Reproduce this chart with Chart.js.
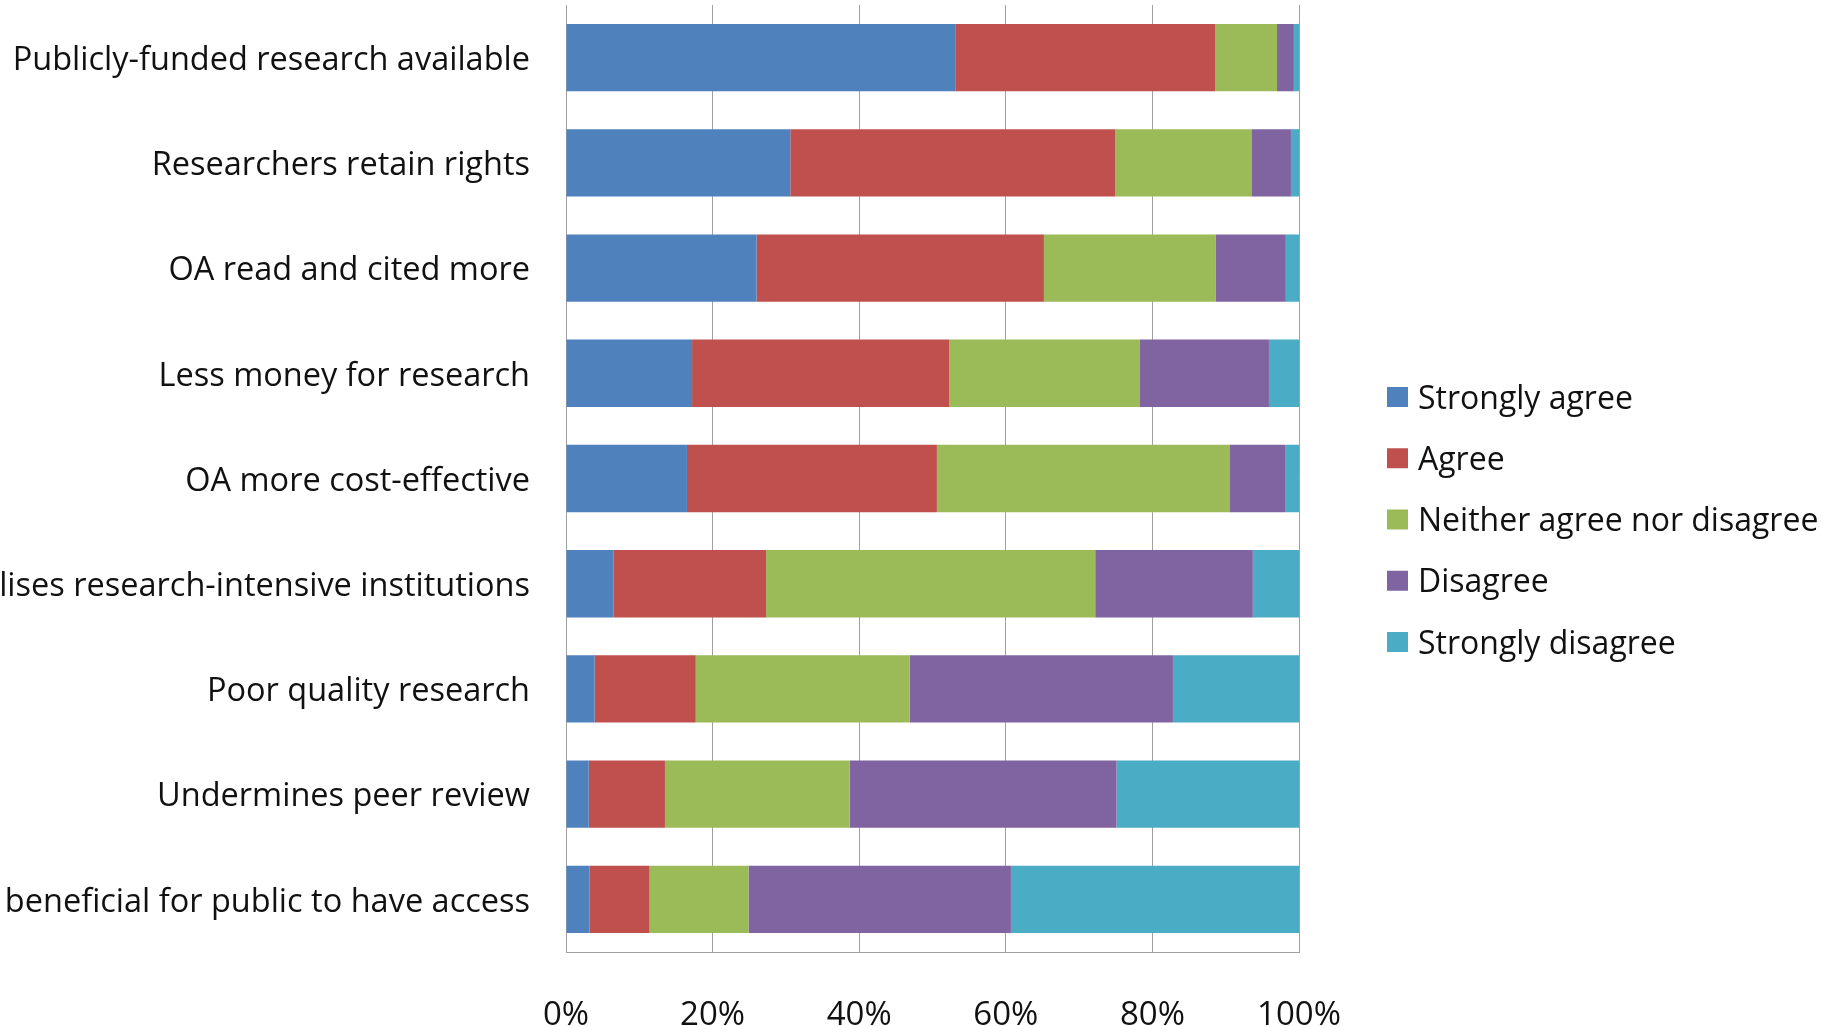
<!DOCTYPE html>
<html><head><meta charset="utf-8">
<script src="https://cdn.jsdelivr.net/npm/chart.js@4.4.0/dist/chart.umd.min.js"></script>
<style>html,body{margin:0;padding:0;background:#fff;overflow:hidden}</style>
</head><body>
<canvas id="c" width="1828" height="1026"></canvas>
<script>
const categories = [
  'Publicly-funded research available',
  'Researchers retain rights',
  'OA read and cited more',
  'Less money for research',
  'OA more cost-effective',
  'lises research-intensive institutions',
  'Poor quality research',
  'Undermines peer review',
  'beneficial for public to have access'
];
const seriesNames = ['Strongly agree', 'Agree', 'Neither agree nor disagree', 'Disagree', 'Strongly disagree'];
const stronglyAgree    = [53.1, 30.6, 26.0, 17.2, 16.5, 6.5, 3.9, 3.1, 3.2];
const agree            = [35.5, 44.3, 39.2, 35.1, 34.1, 20.8, 13.8, 10.4, 8.2];
const neither          = [8.4, 18.6, 23.4, 26.0, 39.9, 44.9, 29.2, 25.2, 13.5];
const disagree         = [2.3, 5.4, 9.6, 17.6, 7.6, 21.5, 35.9, 36.4, 35.8];
const stronglyDisagree = [0.7, 1.1, 1.8, 4.1, 1.9, 6.3, 17.2, 24.9, 39.3];
const xTickValues = [0, 20, 40, 60, 80, 100];
const xTickLabels = ['0%', '20%', '40%', '60%', '80%', '100%'];

const seriesValues = [stronglyAgree, agree, neither, disagree, stronglyDisagree];
const seriesColors = ['#4F81BD', '#C0504D', '#9BBB59', '#8064A2', '#4BACC6'];
const FONT = "'Open Sans', sans-serif";

const sideLegend = {
  id: 'sideLegend',
  afterDraw(chart) {
    const ctx = chart.ctx;
    ctx.save();
    ctx.font = '32px ' + FONT;
    ctx.textBaseline = 'alphabetic';
    chart.data.datasets.forEach((ds, i) => {
      const yc = 397 + i * 61.25;
      ctx.fillStyle = ds.backgroundColor;
      ctx.fillRect(1387, yc - 10, 21, 20);
      ctx.fillStyle = '#111';
      ctx.fillText(ds.label, 1418, yc + 11.5);
    });
    ctx.restore();
  }
};

new Chart(document.getElementById('c'), {
  type: 'bar',
  data: {
    labels: categories,
    datasets: seriesNames.map((n, i) => ({
      label: n,
      data: seriesValues[i],
      backgroundColor: seriesColors[i],
      borderWidth: 0,
      barPercentage: 0.64,
      categoryPercentage: 1
    }))
  },
  options: {
    indexAxis: 'y',
    responsive: false,
    devicePixelRatio: 1,
    animation: false,
    layout: { padding: { top: 5, right: 529, left: 0, bottom: 0 } },
    plugins: { legend: { display: false }, tooltip: { enabled: false } },
    scales: {
      x: {
        stacked: true,
        min: 0, max: 100,
        afterBuildTicks(scale) { scale.ticks = xTickValues.map(v => ({ value: v })); },
        afterFit(scale) { scale.height = 74; scale.paddingLeft = 0; scale.paddingRight = 0; },
        ticks: {
          callback: (v) => xTickLabels[xTickValues.indexOf(v)],
          font: { family: FONT, size: 33 },
          color: '#111',
          padding: 44,
          maxRotation: 0
        },
        grid: { color: '#a0a0a0', lineWidth: 1, drawTicks: false },
        border: { color: '#a0a0a0', width: 1 }
      },
      y: {
        stacked: true,
        afterFit(scale) { scale.width = 566; scale.paddingTop = 0; scale.paddingBottom = 0; },
        ticks: {
          font: { family: FONT, size: 32.5 },
          color: '#111',
          padding: 36,
          labelOffset: 3,
          autoSkip: false
        },
        grid: { display: false, drawTicks: false },
        border: { color: '#a0a0a0', width: 1 }
      }
    }
  },
  plugins: [sideLegend]
});
</script>
</body></html>
